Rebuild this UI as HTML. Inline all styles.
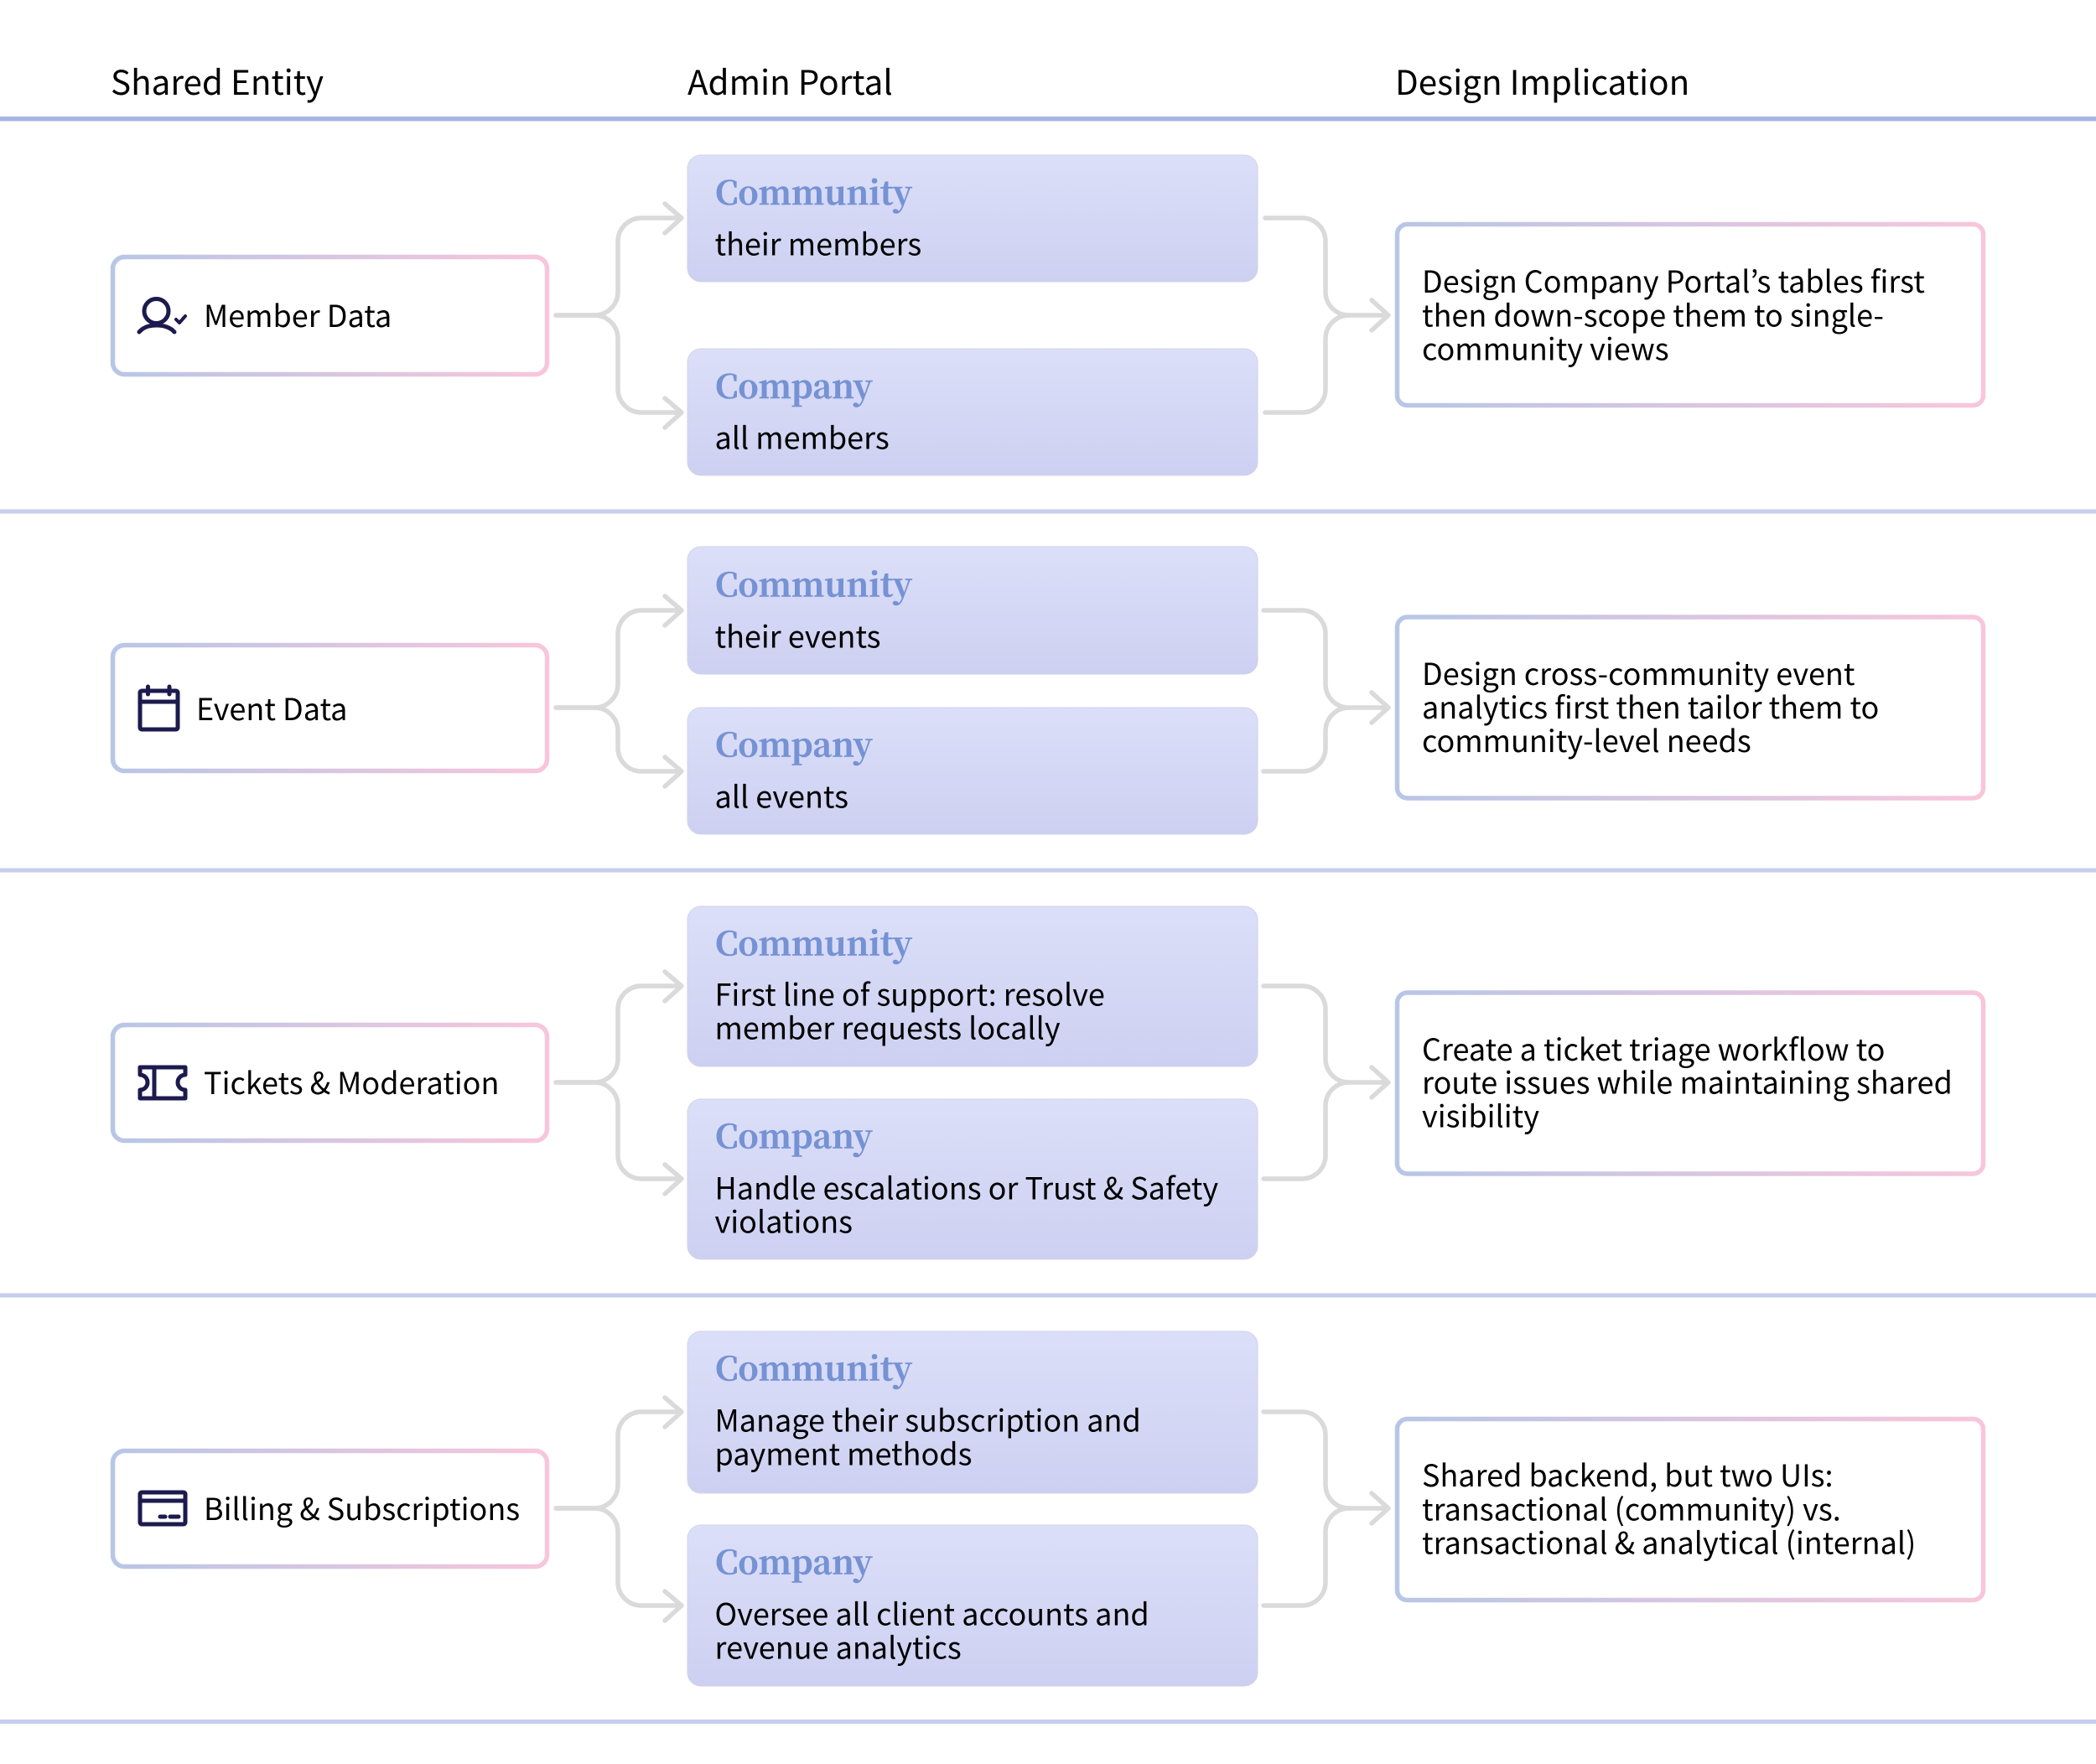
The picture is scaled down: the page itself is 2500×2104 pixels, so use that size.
<!DOCTYPE html>
<html><head><meta charset="utf-8">
<style>
html,body{margin:0;padding:0;background:#fff;width:2500px;height:2104px;overflow:hidden}
svg{display:block}
text{font-family:"Noto Sans CJK JP","Noto Sans CJK SC","Liberation Sans",sans-serif;font-size:36px;fill:#000}
.h{font-size:40.400px}
.s{font-family:"Noto Serif CJK SC","Liberation Serif",serif;font-size:39px;font-weight:700;fill:#7592d4;stroke:#7592d4;stroke-width:.6px}
.c{fill:none;stroke:#dadada;stroke-width:5.500;stroke-linecap:round;stroke-linejoin:round}
.i{fill:none;stroke:#1d1a4d;stroke-width:5;stroke-linecap:round;stroke-linejoin:round}
.b{fill:#fff;stroke:url(#bd);stroke-width:5.500}
.p{fill:url(#pg);stroke:#d0d2ea;stroke-width:1}
</style></head><body>
<svg width="2500" height="2104" viewBox="0 0 2500 2104" xmlns="http://www.w3.org/2000/svg">
<defs>
<linearGradient id="bd" x1="0" y1="0" x2="1" y2="0"><stop offset="0" stop-color="#b8c6e6"/><stop offset="1" stop-color="#f8c6db"/></linearGradient>
<linearGradient id="pg" x1="0" y1="0" x2="0" y2="1"><stop offset="0" stop-color="#dcdff8"/><stop offset="1" stop-color="#cdd0f1"/></linearGradient>
</defs>
<rect width="2500" height="2104" fill="#fff"/>

<text class="h" x="132" y="113">Shared Entity</text>
<text class="h" x="820" y="113">Admin Portal</text>
<text class="h" x="1664" y="113">Design Implication</text>

<rect x="0" y="139" width="2500" height="5.500" fill="#a9b5e3"/>
<rect x="0" y="607.500" width="2500" height="5" fill="#c8cced"/>
<rect x="0" y="1035.500" width="2500" height="5" fill="#c8cced"/>
<rect x="0" y="1542.500" width="2500" height="5" fill="#c8cced"/>
<rect x="0" y="2051" width="2500" height="5" fill="#c8cced"/>

<!-- Row 1 -->
<path class="c" d="M663 376H709A28 28 0 0 0 737 348V288A28 28 0 0 1 765 260H811M793 243L813 260L793 278"/>
<path class="c" d="M663 376H709A28 28 0 0 1 737 404V464A28 28 0 0 0 765 492H811M793 475L813 492L793 510"/>
<path class="c" d="M1509 260H1553A28 28 0 0 1 1581 288V348A28 28 0 0 0 1609 376H1654M1636 358L1656 376L1636 394"/>
<path class="c" d="M1509 492H1553A28 28 0 0 0 1581 464V404A28 28 0 0 1 1609 376"/>
<rect class="b" x="134.500" y="306.500" width="518" height="140" rx="14"/>
<ellipse class="i" cx="186.500" cy="371" rx="14.500" ry="14.500"/>
<path class="i" d="M166 396C172 389 180 388 187 388C194 388 203 390 208 396"/>
<path class="i" style="stroke-width:4" d="M210 381L214 385L221 377"/>
<text x="243" y="390">Member Data</text>
<rect class="p" x="820" y="185" width="680" height="151" rx="16"/>
<text class="s" x="853" y="244">Community</text>
<text x="852.500" y="304.500">their members</text>
<rect class="p" x="820" y="416" width="680" height="151" rx="16"/>
<text class="s" x="853" y="475">Company</text>
<text x="852.500" y="535.500">all members</text>
<rect class="b" x="1666.500" y="267.500" width="699" height="216" rx="12"/>
<text x="1696" y="349">Design Company Portal’s tables first</text>
<text x="1696" y="389.500">then down-scope them to single-</text>
<text x="1696" y="429.500">community views</text>

<!-- Row 2 -->
<path class="c" d="M663 844H709A28 28 0 0 0 737 816V756A28 28 0 0 1 765 728H811M793 711L813 728L793 746"/>
<path class="c" d="M663 844H709A28 28 0 0 1 737 872V892A28 28 0 0 0 765 920H811M793 903L813 920L793 938"/>
<path class="c" d="M1507 728H1553A28 28 0 0 1 1581 756V816A28 28 0 0 0 1609 844H1654M1636 826L1656 844L1636 862"/>
<path class="c" d="M1507 920H1553A28 28 0 0 0 1581 892V872A28 28 0 0 1 1609 844"/>
<rect class="b" x="134.500" y="769.500" width="518" height="150" rx="14"/>
<rect class="i" x="167" y="824" width="45" height="46" rx="2"/>
<path class="i" d="M167 837H212M176.500 819V828M202 819V828"/>
<text x="234" y="859">Event Data</text>
<rect class="p" x="820" y="652" width="680" height="152" rx="16"/>
<text class="s" x="853" y="711.500">Community</text>
<text x="852.500" y="772.500">their events</text>
<rect class="p" x="820" y="844" width="680" height="151" rx="16"/>
<text class="s" x="853" y="902.500">Company</text>
<text x="852.500" y="963.500">all events</text>
<rect class="b" x="1666.500" y="736" width="699" height="216" rx="12"/>
<text x="1696" y="817">Design cross-community event</text>
<text x="1696" y="857">analytics first then tailor them to</text>
<text x="1696" y="897">community-level needs</text>

<!-- Row 3 -->
<path class="c" d="M663 1291H709A28 28 0 0 0 737 1263V1204A28 28 0 0 1 765 1176H811M793 1159L813 1176L793 1194"/>
<path class="c" d="M663 1291H709A28 28 0 0 1 737 1319V1378A28 28 0 0 0 765 1406H811M793 1389L813 1406L793 1424"/>
<path class="c" d="M1507 1176H1553A28 28 0 0 1 1581 1204V1263A28 28 0 0 0 1609 1291H1654M1636 1273L1656 1291L1636 1309"/>
<path class="c" d="M1507 1406H1553A28 28 0 0 0 1581 1378V1319A28 28 0 0 1 1609 1291"/>
<rect class="b" x="134.500" y="1222.500" width="518" height="138" rx="14"/>
<path class="i" d="M167 1273H221V1282A9 9 0 0 0 221 1300V1310H167V1300A9 9 0 0 0 167 1282ZM184 1273V1310"/>
<text x="243" y="1305">Tickets &amp; Moderation</text>
<rect class="p" x="820" y="1081" width="680" height="191" rx="16"/>
<text class="s" x="853" y="1139.500">Community</text>
<text x="852.500" y="1199.500">First line of support: resolve</text>
<text x="852.500" y="1239.500">member requests locally</text>
<rect class="p" x="820" y="1311" width="680" height="191" rx="16"/>
<text class="s" x="853" y="1369.500">Company</text>
<text x="852.500" y="1430.500">Handle escalations or Trust &amp; Safety</text>
<text x="852.500" y="1470.500">violations</text>
<rect class="b" x="1666.500" y="1184" width="699" height="216" rx="12"/>
<text x="1696" y="1265">Create a ticket triage workflow to</text>
<text x="1696" y="1304.500">route issues while maintaining shared</text>
<text x="1696" y="1344.500">visibility</text>

<!-- Row 4 -->
<path class="c" d="M663 1799H709A28 28 0 0 0 737 1771V1712A28 28 0 0 1 765 1684H811M793 1667L813 1684L793 1702"/>
<path class="c" d="M663 1799H709A28 28 0 0 1 737 1827V1887A28 28 0 0 0 765 1915H811M793 1898L813 1915L793 1933"/>
<path class="c" d="M1507 1684H1553A28 28 0 0 1 1581 1712V1771A28 28 0 0 0 1609 1799H1654M1636 1781L1656 1799L1636 1817"/>
<path class="c" d="M1507 1915H1553A28 28 0 0 0 1581 1887V1827A28 28 0 0 1 1609 1799"/>
<rect class="b" x="134.500" y="1730.500" width="518" height="138" rx="14"/>
<rect class="i" x="167" y="1780" width="54" height="38" rx="2"/>
<path class="i" d="M167 1790H221M191 1809H197M203 1809H213"/>
<text x="243" y="1813">Billing &amp; Subscriptions</text>
<rect class="p" x="820" y="1588" width="680" height="193" rx="16"/>
<text class="s" x="853" y="1646.500">Community</text>
<text x="852.500" y="1707.500">Manage their subscription and</text>
<text x="852.500" y="1747.500">payment methods</text>
<rect class="p" x="820" y="1819" width="680" height="192" rx="16"/>
<text class="s" x="853" y="1877.500">Company</text>
<text x="852.500" y="1938.500">Oversee all client accounts and</text>
<text x="852.500" y="1978.500">revenue analytics</text>
<rect class="b" x="1666.500" y="1692.500" width="699" height="216" rx="12"/>
<text x="1696" y="1773">Shared backend, but two UIs:</text>
<text x="1696" y="1813.500">transactional (community) vs.</text>
<text x="1696" y="1853.500">transactional &amp; analytical (internal)</text>
</svg>
</body></html>
